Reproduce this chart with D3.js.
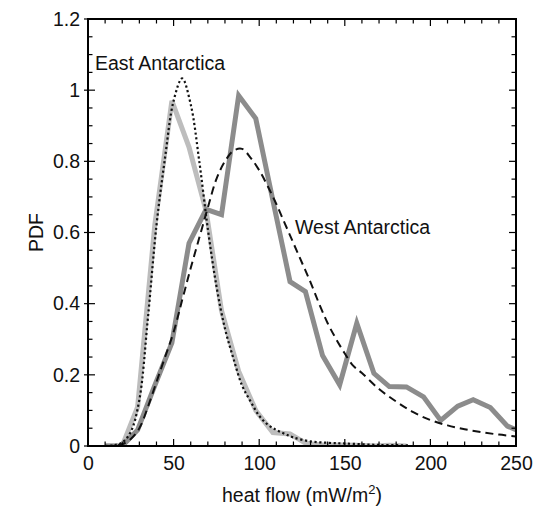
<!DOCTYPE html>
<html>
<head>
<meta charset="utf-8">
<script src="https://cdn.jsdelivr.net/npm/d3@7"></script>
<style>
  html, body { margin: 0; padding: 0; background: #fff; }
  svg { display: block; font-family: "Liberation Sans", Arial, Helvetica, sans-serif; }
</style>
</head>
<body>
<svg id="chart" width="541" height="509"></svg>
<script>
// ---- data ----
const binX = [10, 20, 29, 39, 49, 59, 69, 78, 88, 98, 108, 118, 127, 137, 147, 157, 167, 176, 186, 196, 206, 216, 225, 235, 245, 255];
const eastHist = [0, 0, 0.11, 0.62, 0.97, 0.84, 0.66, 0.38, 0.21, 0.10, 0.038, 0.034, 0.008, 0.003, 0.003, 0.002, 0.0, 0.002, 0.0];
const westHist = [0, 0, 0.045, 0.17, 0.29, 0.57, 0.665, 0.65, 0.985, 0.92, 0.69, 0.462, 0.434, 0.254, 0.172, 0.345, 0.204, 0.167, 0.166, 0.138, 0.072, 0.112, 0.13, 0.108, 0.056, 0.035];

const eastFitX = [10, 15, 20, 25, 30, 35, 40, 45, 50, 55, 60, 65, 70, 75, 80, 85, 90, 95, 100, 105, 110, 115, 120, 130, 140, 150, 170, 187];
const eastFitY = [0, 0.002, 0.01, 0.04, 0.13, 0.36, 0.62, 0.81, 0.97, 1.033, 0.96, 0.80, 0.61, 0.45, 0.33, 0.245, 0.17, 0.125, 0.085, 0.06, 0.045, 0.034, 0.024, 0.013, 0.009, 0.007, 0.003, 0.002];

const westFitX = [10, 15, 20, 25, 30, 35, 40, 45, 50, 55, 60, 65, 70, 75, 80, 85, 90, 95, 100, 105, 110, 115, 120, 125, 130, 135, 140, 145, 150, 155, 160, 170, 180, 190, 200, 210, 220, 230, 240, 250];
const westFitY = [0, 0.001, 0.005, 0.02, 0.05, 0.11, 0.18, 0.25, 0.32, 0.41, 0.50, 0.585, 0.67, 0.75, 0.80, 0.83, 0.835, 0.81, 0.775, 0.73, 0.68, 0.625, 0.57, 0.515, 0.46, 0.40, 0.345, 0.30, 0.26, 0.225, 0.205, 0.16, 0.125, 0.095, 0.073, 0.058, 0.047, 0.039, 0.032, 0.027];

const xTicks = [0, 50, 100, 150, 200, 250];
const yTicks = [0, 0.2, 0.4, 0.6, 0.8, 1, 1.2];
const yTickLabels = ["0", "0.2", "0.4", "0.6", "0.8", "1", "1.2"];

// ---- layout ----
const svg = d3.select("#chart");
const L = 88, R = 516, T = 19, B = 446;
const FS = 19.5;
const x = d3.scaleLinear().domain([0, 250]).range([L, R]);
const y = d3.scaleLinear().domain([0, 1.2]).range([B, T]);

svg.append("defs").append("clipPath").attr("id", "plotclip")
  .append("rect").attr("x", L).attr("y", T).attr("width", R - L).attr("height", B - T);

const plot = svg.append("g").attr("clip-path", "url(#plotclip)");

const lineLin = d3.line().x(d => x(d[0])).y(d => y(d[1]));
const lineSmooth = d3.line().x(d => x(d[0])).y(d => y(d[1])).curve(d3.curveCatmullRom.alpha(0.5));

plot.append("path")
  .datum(eastHist.map((v, i) => [binX[i], v]))
  .attr("d", lineLin)
  .attr("fill", "none").attr("stroke", "#bdbdbd").attr("stroke-width", 5)
  .attr("stroke-linejoin", "miter");

plot.append("path")
  .datum(westHist.map((v, i) => [binX[i], v]))
  .attr("d", lineLin)
  .attr("fill", "none").attr("stroke", "#8c8c8c").attr("stroke-width", 5)
  .attr("stroke-linejoin", "miter");

plot.append("path")
  .datum(eastFitX.map((v, i) => [v, eastFitY[i]]))
  .attr("d", lineSmooth)
  .attr("fill", "none").attr("stroke", "#111").attr("stroke-width", 2.2)
  .attr("stroke-dasharray", "2.2,2.6");

plot.append("path")
  .datum(westFitX.map((v, i) => [v, westFitY[i]]))
  .attr("d", lineSmooth)
  .attr("fill", "none").attr("stroke", "#111").attr("stroke-width", 2)
  .attr("stroke-dasharray", "8,5");

// ---- frame & ticks ----
const axisG = svg.append("g").attr("stroke", "#000");
const xMinor = d3.range(0, 251, 10);
const yMinor = d3.range(0, 1.2001, 0.05);
const majLen = 7, minLen = 4.5;
xMinor.forEach(v => {
  const len = (v % 50 === 0) ? majLen : minLen;
  axisG.append("line").attr("x1", x(v)).attr("x2", x(v)).attr("y1", B).attr("y2", B - len).attr("stroke-width", 1.2);
  axisG.append("line").attr("x1", x(v)).attr("x2", x(v)).attr("y1", T).attr("y2", T + len).attr("stroke-width", 1.2);
});
yMinor.forEach(v => {
  const isMaj = Math.abs(v / 0.2 - Math.round(v / 0.2)) < 1e-6;
  const len = isMaj ? majLen : minLen;
  axisG.append("line").attr("y1", y(v)).attr("y2", y(v)).attr("x1", L - (isMaj ? 4 : 0)).attr("x2", L + len).attr("stroke-width", 1.2);
  axisG.append("line").attr("y1", y(v)).attr("y2", y(v)).attr("x1", R).attr("x2", R - len).attr("stroke-width", 1.2);
});
svg.append("rect").attr("x", L).attr("y", T).attr("width", R - L).attr("height", B - T)
  .attr("fill", "none").attr("stroke", "#000").attr("stroke-width", 2);

// tick labels via d3 axes
const xAxis = svg.append("g").attr("transform", `translate(0,${B})`)
  .call(d3.axisBottom(x).tickValues(xTicks).tickSize(0).tickPadding(10).tickFormat(d3.format("d")));
const yAxis = svg.append("g").attr("transform", `translate(${L},0)`)
  .call(d3.axisLeft(y).tickValues(yTicks).tickSize(0).tickPadding(8).tickFormat((d, i) => yTickLabels[i]));
[xAxis, yAxis].forEach(g => {
  g.select(".domain").remove();
  g.selectAll("text").attr("font-size", FS).attr("fill", "#111")
    .attr("font-family", "'Liberation Sans', Arial, Helvetica, sans-serif");
});

// ---- labels ----
const lab = svg.append("g").attr("fill", "#111").attr("font-size", FS);
lab.append("text").attr("x", 95).attr("y", 70).text("East Antarctica");
lab.append("text").attr("x", 295).attr("y", 234).text("West Antarctica");

const xt = lab.append("text").attr("x", (L + R) / 2).attr("y", 502).attr("text-anchor", "middle");
xt.append("tspan").text("heat flow (mW/m");
xt.append("tspan").attr("dy", -8).attr("font-size", 13).text("2");
xt.append("tspan").attr("dy", 8).text(")");

lab.append("text").attr("transform", `translate(43,${(T + B) / 2}) rotate(-90)`)
  .attr("text-anchor", "middle").text("PDF");
</script>
</body>
</html>
